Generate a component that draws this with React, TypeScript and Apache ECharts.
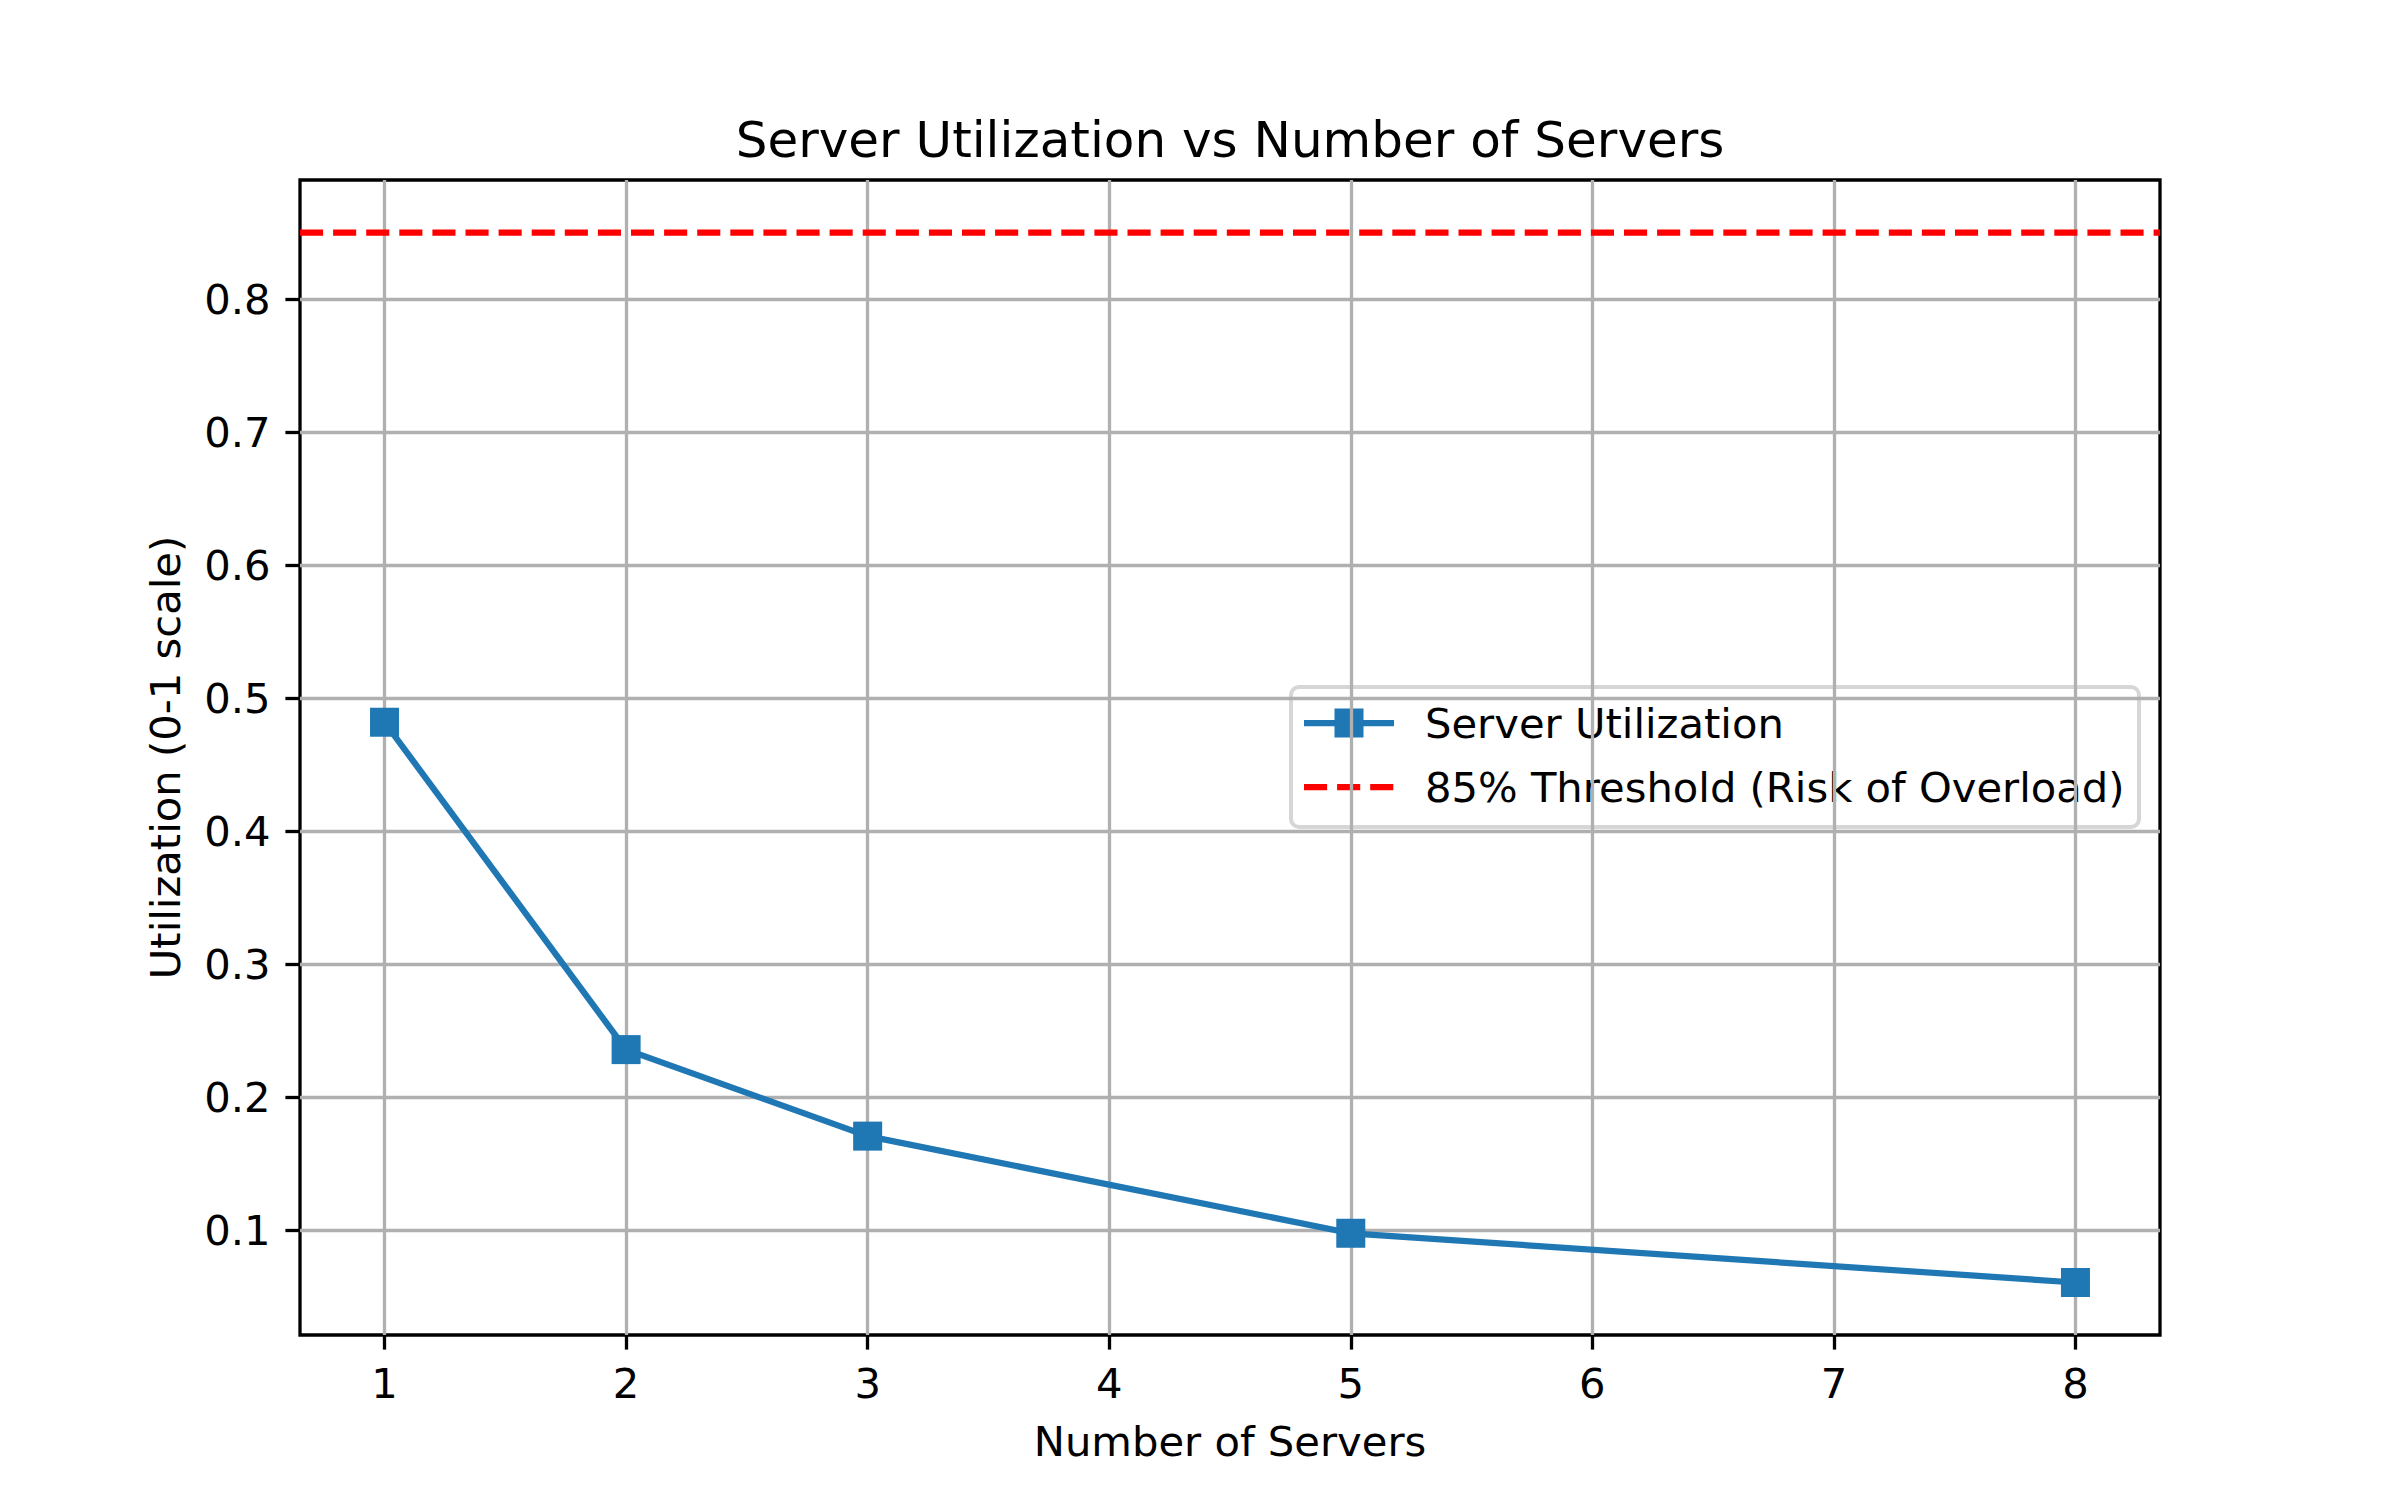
import React, { useEffect, useRef } from "react";
import * as echarts from "echarts";

const servers = [1, 2, 3, 5, 8];
const utilization = [0.482, 0.236, 0.171, 0.098, 0.061];
const threshold = 0.85;
const xTickValues = [1, 2, 3, 4, 5, 6, 7, 8];
const yTickValues = [0.1, 0.2, 0.3, 0.4, 0.5, 0.6, 0.7, 0.8];

const TITLE = "Server Utilization vs Number of Servers";
const X_NAME = "Number of Servers";
const Y_NAME = "Utilization (0-1 scale)";
const SERIES_NAME = "Server Utilization";
const THRESH_NAME = "85% Threshold (Risk of Overload)";

const BLUE = "#1f77b4";
const FONT = "DejaVu Sans";

export default function App() {
  const ref = useRef<HTMLDivElement>(null);
  useEffect(() => {
    if (!ref.current) return;
    const chart = echarts.init(ref.current, undefined, { renderer: "svg" });

    const xLo = Math.min(...servers);
    const xHi = Math.max(...servers);
    const xPad = (xHi - xLo) * 0.05;
    const xMin = xLo - xPad;
    const xMax = xHi + xPad;
    const yLo = Math.min(...utilization, threshold);
    const yHi = Math.max(...utilization, threshold);
    const yPad = (yHi - yLo) * 0.05;
    const yMin = yLo - yPad;
    const yMax = yHi + yPad;

    const gridLeft = 300;
    const gridTop = 180;
    const gridW = 1860;
    const gridH = 1155;

    const lw = 6.25;
    const gridColor = "#b0b0b0";
    const gridW_ = 3.3;

    // legend geometry
    const lgX = 1291, lgY = 687, lgW = 848, lgH = 140;
    const row1 = 723, row2 = 787;
    const hx0 = 1304, hx1 = 1394, hxc = 1349;
    const tx = 1425;

    chart.setOption({
      animation: false,
      backgroundColor: "#ffffff",
      title: {
        text: TITLE,
        left: 1225,
        top: 110,
        textAlign: "center",
        textStyle: { fontFamily: FONT, fontSize: 50, fontWeight: "normal", color: "#000" },
      },
      grid: {
        left: gridLeft,
        top: gridTop,
        width: gridW,
        height: gridH,
        show: true,
        borderColor: "#000",
        borderWidth: 3.3,
        backgroundColor: "transparent",
        containLabel: false,
      },
      xAxis: {
        type: "value",
        min: xMin,
        max: xMax,
        name: X_NAME,
        nameLocation: "middle",
        nameGap: 85,
        nameTextStyle: { fontFamily: FONT, fontSize: 41.7, color: "#000" },
        axisLine: { show: false },
        axisTick: {
          show: true,
          inside: false,
          length: 14.6,
          lineStyle: { color: "#000", width: 3.3 },
          customValues: xTickValues,
        },
        axisLabel: {
          show: true,
          margin: 27,
          fontFamily: FONT,
          fontSize: 41.7,
          color: "#000",
          customValues: xTickValues,
          formatter: (v: number) => String(Math.round(v)),
        },
        splitLine: { show: true, lineStyle: { color: gridColor, width: gridW_ } },
      },
      yAxis: {
        type: "value",
        min: yMin,
        max: yMax,
        name: Y_NAME,
        nameLocation: "middle",
        nameGap: 114,
        nameRotate: 90,
        nameTextStyle: { fontFamily: FONT, fontSize: 41.7, color: "#000" },
        axisLine: { show: false },
        axisTick: {
          show: true,
          inside: false,
          length: 14.6,
          lineStyle: { color: "#000", width: 3.3 },
          customValues: yTickValues,
        },
        axisLabel: {
          show: true,
          margin: 29.5,
          fontFamily: FONT,
          fontSize: 41.7,
          color: "#000",
          customValues: yTickValues,
          formatter: (v: number) => v.toFixed(1),
        },
        splitLine: { show: true, lineStyle: { color: gridColor, width: gridW_ } },
      },
      series: [
        {
          name: SERIES_NAME,
          type: "line",
          data: servers.map((s, i) => [s, utilization[i]]),
          symbol: "rect",
          symbolSize: 29,
          lineStyle: { color: BLUE, width: lw },
          itemStyle: { color: BLUE },
          z: 3,
        },
        {
          name: THRESH_NAME,
          type: "line",
          data: [
            [xMin, threshold],
            [xMax, threshold],
          ],
          symbol: "none",
          lineStyle: { color: "#ff0000", width: lw, type: [23.1, 10] },
          z: 3,
        },
      ],
      graphic: [
        {
          type: "group",
          z: 100,
          children: [
            {
              type: "rect",
              shape: { x: lgX, y: lgY, width: lgW, height: lgH, r: 8 },
              style: { fill: "rgba(255,255,255,0.8)", stroke: "rgba(204,204,204,0.8)", lineWidth: 4 },
            },
            {
              type: "line",
              shape: { x1: hx0, y1: row1, x2: hx1, y2: row1 },
              style: { stroke: BLUE, lineWidth: lw },
            },
            {
              type: "rect",
              shape: { x: hxc - 14.5, y: row1 - 14.5, width: 29, height: 29 },
              style: { fill: BLUE },
            },
            {
              type: "text",
              x: tx,
              y: row1,
              style: {
                text: SERIES_NAME,
                fontFamily: FONT,
                fontSize: 41.7,
                fill: "#000",
                verticalAlign: "middle",
                align: "left",
              },
            },
            {
              type: "line",
              shape: { x1: hx0, y1: row2, x2: hx1, y2: row2 },
              style: { stroke: "#ff0000", lineWidth: lw, lineDash: [23.1, 10] },
            },
            {
              type: "text",
              x: tx,
              y: row2,
              style: {
                text: THRESH_NAME,
                fontFamily: FONT,
                fontSize: 41.7,
                fill: "#000",
                verticalAlign: "middle",
                align: "left",
              },
            },
          ],
        },
      ],
    });
    return () => chart.dispose();
  }, []);
  return (
    <div
      ref={ref}
      style={{ position: "absolute", left: 0, top: 0, width: 2400, height: 1500 }}
    />
  );
}
